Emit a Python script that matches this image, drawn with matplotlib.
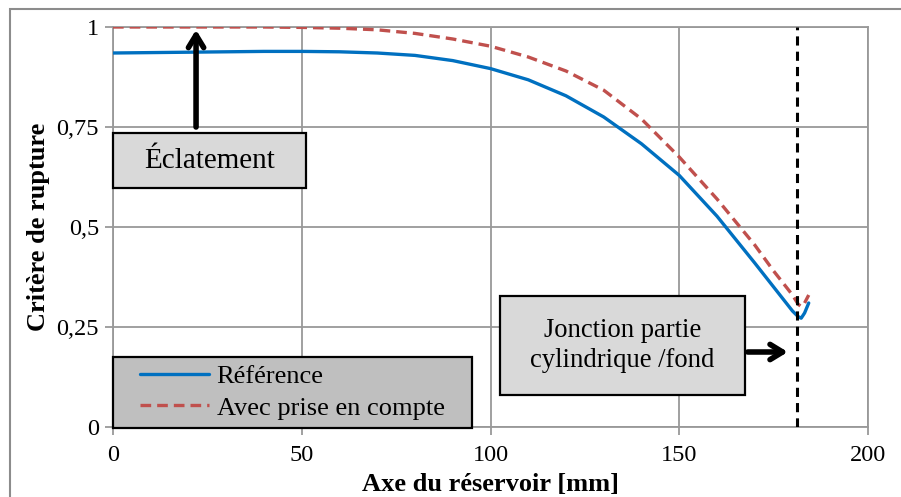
import matplotlib
matplotlib.use('Agg')
import matplotlib.pyplot as plt
from matplotlib.patches import Rectangle

plt.rcParams['font.family'] = ['Liberation Serif', 'DejaVu Serif']

# position along the tank axis [mm]
x_mm = [0, 10, 20, 30, 40, 50, 60, 70, 80, 90, 100, 110, 120, 130, 140,
        150, 160, 170, 175, 180, 181.5, 182.3, 183.2, 184.3]
# failure criterion, reference
crit_ref = [0.935, 0.936, 0.937, 0.938, 0.939, 0.939, 0.938, 0.935, 0.929, 0.916,
            0.896, 0.868, 0.828, 0.775, 0.708, 0.629, 0.527, 0.41, 0.35, 0.29,
            0.276, 0.272, 0.285, 0.31]
# failure criterion, with effect taken into account
crit_avec = [1.0, 1.0, 1.0, 1.0, 1.0, 0.999, 0.997, 0.993, 0.984, 0.97,
             0.952, 0.925, 0.89, 0.842, 0.77, 0.675, 0.57, 0.455, 0.39, 0.33,
             0.307, 0.301, 0.31, 0.33]
jonction_x = 181.3
xticks = [0, 50, 100, 150, 200]
yticks = [0, 0.25, 0.5, 0.75, 1]
ytick_labels = ['0', '0,25', '0,5', '0,75', '1']

fig = plt.figure(figsize=(9.01, 4.97), dpi=100)
ax = fig.add_axes([113/901, 1-427/497, (868-113)/901, 400/497])

# outer frame of the figure
fig.patches.append(Rectangle((10/901, -0.5), 1.5, 0.5 + 1 - 9/497,
                             transform=fig.transFigure, fill=False,
                             edgecolor='#8c8c8c', lw=1.5))

ax.plot(x_mm, crit_ref, color='#0070c0', lw=2.4, label='Référence',
        solid_capstyle='round', zorder=3)
ax.plot(x_mm, crit_avec, color='#c0504d', lw=2.4, ls=(0, (3.2, 1.8)),
        label='Avec prise en compte', zorder=3)
ax.axvline(jonction_x, color='black', lw=2.2, ls=(0, (3, 2)), zorder=4)

ax.set_xlim(0, 200)
ax.set_ylim(0, 1)
ax.set_xticks(xticks)
ax.set_yticks(yticks)
ax.set_yticklabels(ytick_labels)
ax.grid(True, color='#999999', lw=1.3)
ax.set_axisbelow(True)
for s in ax.spines.values():
    s.set_color('#999999')
    s.set_linewidth(1.3)
ax.tick_params(colors='#999999', labelcolor='black', labelsize=17.5,
               length=6, width=1.3)
ax.tick_params(axis='x', pad=7)
ax.tick_params(axis='y', pad=4)

ax.set_xlabel('Axe du réservoir [mm]', fontsize=19, fontweight='bold', labelpad=5)
ax.set_ylabel('Critère de rupture', fontsize=19, fontweight='bold', labelpad=5)

# Eclatement box + arrow
ax.add_patch(Rectangle((0, 0.5975), 51.1, 0.1375, facecolor='#d9d9d9',
                       edgecolor='black', lw=1.6, zorder=5, clip_on=False))
ax.text(25.5, 0.666, 'Éclatement', ha='center', va='center', fontsize=21, zorder=6)
ax.annotate('', xy=(22, 1.0), xytext=(22, 0.743),
            arrowprops=dict(arrowstyle='->,head_length=0.9,head_width=0.55',
                            lw=4, color='black'), zorder=6)

# Jonction box + arrow
ax.add_patch(Rectangle((102.5, 0.08), 64.9, 0.2475, facecolor='#d9d9d9',
                       edgecolor='black', lw=1.6, zorder=5))
ax.text(134.9, 0.204, 'Jonction partie\ncylindrique /fond', ha='center',
        va='center', fontsize=19.2, linespacing=1.3, zorder=6)
ax.annotate('', xy=(179.5, 0.1875), xytext=(167.4, 0.1875),
            arrowprops=dict(arrowstyle='->,head_length=0.9,head_width=0.55',
                            lw=4, color='black'), zorder=6)

# legend: grey box drawn separately, entries placed inside
ax.add_patch(Rectangle((0, -0.0025), 95.1, 0.1775, facecolor='#bfbfbf',
                       edgecolor='black', lw=1.6, zorder=5, clip_on=False))
leg = ax.legend(loc='center left', bbox_to_anchor=(27/755, 0.087),
                frameon=False, borderpad=0, borderaxespad=0,
                fontsize=19, handlelength=2.6, handletextpad=0.3,
                labelspacing=0.3)
leg.set_zorder(6)

fig.savefig('out.png', dpi=100)
